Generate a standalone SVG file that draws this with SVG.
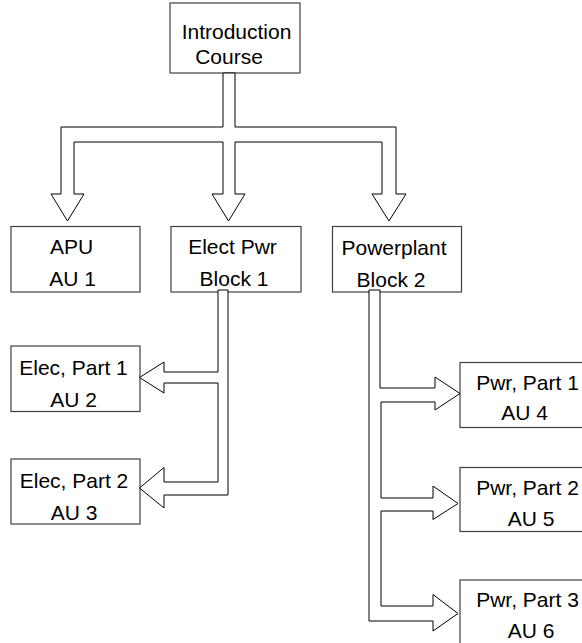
<svg xmlns="http://www.w3.org/2000/svg" width="582" height="643" viewBox="0 0 582 643">
<style>
.box{fill:#fff;stroke:#404040;stroke-width:1.2}
.conn{fill:#fff;stroke:#000;stroke-width:1;stroke-linejoin:miter}
text{font-family:"Liberation Sans",Arial,sans-serif;font-size:21px;fill:#000;text-anchor:middle}
</style>
<rect width="582" height="643" fill="#fff"/>
<g id="intro"><rect class="box" x="170" y="3" width="130" height="70"/><text x="236.5" y="39">Introduction</text><text x="229" y="64">Course</text></g>
<g id="apu"><rect class="box" x="11" y="226.5" width="129" height="65.5"/><text x="71.5" y="254">APU</text><text x="72.5" y="286">AU 1</text></g>
<g id="elect"><rect class="box" x="171" y="226.5" width="130" height="65.5"/><text x="232.5" y="254">Elect Pwr</text><text x="234" y="286">Block 1</text></g>
<g id="powerplant"><rect class="box" x="332.5" y="226.5" width="129" height="65.5"/><text x="394" y="255">Powerplant</text><text x="391" y="286.5">Block 2</text></g>
<g id="elec1"><rect class="box" x="11" y="346" width="129" height="65.5"/><text x="73.5" y="375">Elec, Part 1</text><text x="73.5" y="406.5">AU 2</text></g>
<g id="elec2"><rect class="box" x="11" y="459" width="129" height="65"/><text x="74" y="488">Elec, Part 2</text><text x="74" y="520">AU 3</text></g>
<g id="pwr1"><rect class="box" x="460" y="362.5" width="129" height="65"/><text x="527.5" y="390">Pwr, Part 1</text><text x="524.5" y="420">AU 4</text></g>
<g id="pwr2"><rect class="box" x="460" y="467.5" width="129" height="64"/><text x="527.5" y="495">Pwr, Part 2</text><text x="531" y="526">AU 5</text></g>
<g id="pwr3"><rect class="box" x="460" y="580" width="129" height="70"/><text x="527.5" y="606.5">Pwr, Part 3</text><text x="531" y="638">AU 6</text></g>
<g id="connectors">
<polygon class="conn" points="223,73 235,73 235,127 396,127 396,194 406,194 389,221 372,194 382,194 382,142 235,142 235,194 245,194 228.5,221 212,194 223,194 223,142 74,142 74,194 84,194 67.5,221 51,194 61,194 61,127 223,127"/>
<polygon class="conn" points="218,290 228,290 228,495 164,495 164,508 139.5,488 164,467.5 164,482 218,482 218,383 164,383 164,393 139.5,377.5 164,362 164,372 218,372"/>
<polygon class="conn" points="369,290 380,290 380,388 435,388 435,377 460,393.5 435,410 435,402 381,402 381,498 433,498 433,486 458,503.5 433,519.5 433,511 381,511 381,606 433,606 433,594.5 458,613.5 433,631 433,621 369,621"/>
</g>
</svg>
